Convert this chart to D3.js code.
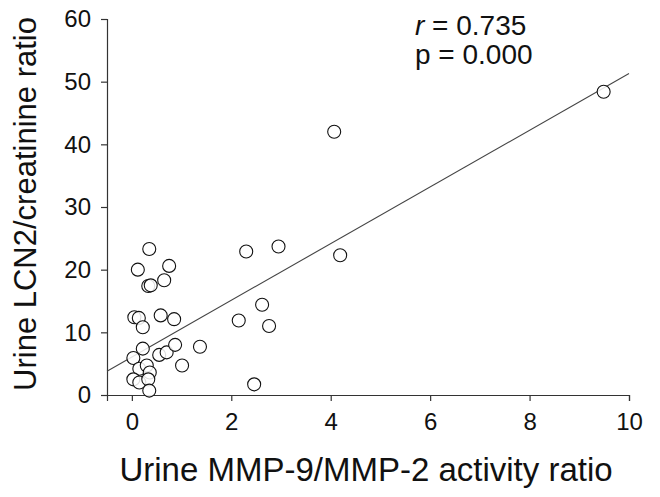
<!DOCTYPE html>
<html>
<head>
<meta charset="utf-8">
<script src="https://cdn.jsdelivr.net/npm/d3@7"></script>
<style>
  html, body { margin: 0; padding: 0; background: #fff; }
  svg { display: block; }
  text { font-family: "Liberation Sans", Arial, Helvetica, sans-serif; fill: #111; }
</style>
</head>
<body>
<svg id="chart" width="660" height="497"></svg>
<script>
// ---- data ----
const mmpRatio = [0.35, 0.12, 0.75, 0.33, 0.38, 0.65, 0.05, 0.14, 0.22, 0.58, 0.85,
                  0.22, 0.03, 0.55, 0.70, 0.87, 1.37, 1.01, 0.15, 0.30, 0.36, 0.03,
                  0.15, 0.33, 0.35, 2.30, 2.95, 4.07, 4.19, 2.62, 2.15, 2.76, 2.46, 9.49];
const lcn2Ratio = [23.3, 20.0, 20.6, 17.4, 17.5, 18.3, 12.4, 12.3, 10.8, 12.7, 12.1,
                   7.4, 5.9, 6.4, 6.8, 8.0, 7.7, 4.7, 4.2, 4.7, 3.6, 2.5,
                   2.0, 2.5, 0.7, 22.9, 23.7, 42.0, 22.3, 14.4, 11.9, 11.0, 1.7, 48.4];
const fitX = [-0.5, 10];
const fitY = [3.8, 51.3];
const xTicks = [0, 2, 4, 6, 8, 10];
const yTicks = [0, 10, 20, 30, 40, 50, 60];
const xTitle = "Urine MMP-9/MMP-2 activity ratio";
const yTitle = "Urine LCN2/creatinine ratio";
const statR = "0.735";
const statP = "0.000";

// ---- drawing ----
const svg = d3.select("#chart");
const x = d3.scaleLinear().domain([-0.5, 10]).range([107, 629]);
const y = d3.scaleLinear().domain([0, 60]).range([395, 19]);

const axisColor = "#333";

// x axis
const gx = svg.append("g").attr("transform", `translate(0,${y(0)})`)
  .call(d3.axisBottom(x).tickValues(xTicks).tickSize(6).tickPadding(12).tickFormat(d3.format("d")));
// y axis
const gy = svg.append("g").attr("transform", `translate(${x(-0.5)},0)`)
  .call(d3.axisLeft(y).tickValues(yTicks).tickSize(6).tickPadding(10).tickFormat(d3.format("d")));

[gx, gy].forEach(g => {
  g.select(".domain").attr("stroke", axisColor).attr("stroke-width", 1.2);
  g.selectAll(".tick line").attr("stroke", axisColor).attr("stroke-width", 1.2);
  g.selectAll(".tick text")
    .attr("fill", "#111")
    .style("font-family", "'Liberation Sans', Arial, sans-serif")
    .style("font-size", "24px");
});

// regression line
svg.append("line")
  .attr("x1", x(fitX[0])).attr("y1", y(fitY[0]))
  .attr("x2", x(fitX[1])).attr("y2", y(fitY[1]))
  .attr("stroke", "#444").attr("stroke-width", 1.1);

// points
const pts = mmpRatio.map((v, i) => ({ x: v, y: lcn2Ratio[i] }));
svg.append("g").selectAll("circle").data(pts).join("circle")
  .attr("cx", d => x(d.x)).attr("cy", d => y(d.y)).attr("r", 6.5)
  .attr("fill", "#fff").attr("fill-opacity", 0.85)
  .attr("stroke", "#111").attr("stroke-width", 1.1);

// stats
const st = svg.append("text").attr("x", 415).attr("y", 35).style("font-size", "28px");
st.append("tspan").style("font-style", "italic").text("r");
st.append("tspan").text(" = " + statR);
svg.append("text").attr("x", 415).attr("y", 64).style("font-size", "28px").text("p = " + statP);

// axis titles
svg.append("text")
  .attr("x", 366).attr("y", 481)
  .attr("text-anchor", "middle")
  .style("font-size", "33px")
  .text(xTitle);

svg.append("text")
  .attr("transform", "translate(36,204) rotate(-90)")
  .attr("text-anchor", "middle")
  .style("font-size", "31px")
  .text(yTitle);
</script>
</body>
</html>
